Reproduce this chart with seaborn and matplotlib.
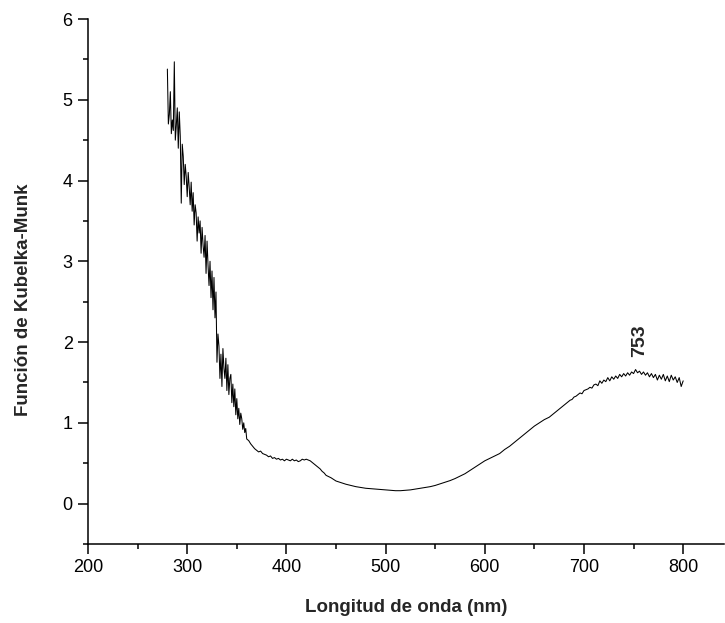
import numpy as np
import pandas as pd
import matplotlib
matplotlib.use("Agg")
import matplotlib.pyplot as plt
from matplotlib.ticker import MultipleLocator
import seaborn as sns

# --- Data ---
# UV region, 1 nm steps, 280-360 nm
wl_uv = np.arange(280, 361, 1)
km_uv = [5.38, 4.70, 4.82, 5.10, 4.58, 4.75, 4.62, 5.47, 4.50, 4.68,
         4.90, 4.40, 4.85, 4.55, 3.72, 4.45, 4.30, 3.95, 4.20, 4.05,
         3.80, 4.10, 3.92, 3.70, 3.98, 3.62, 3.85, 3.45, 3.70, 3.60,
         3.25, 3.55, 3.35, 3.50, 3.10, 3.42, 3.20, 3.05, 3.32, 2.85,
         3.25, 2.95, 2.70, 3.00, 2.55, 2.88, 2.40, 2.80, 2.30, 2.62,
         1.75, 2.10, 1.95, 1.55, 1.85, 1.45, 1.92, 1.68, 1.55, 1.80,
         1.40, 1.72, 1.35, 1.55, 1.60, 1.25, 1.48, 1.20, 1.42, 1.10,
         1.30, 1.05, 1.18, 0.98, 1.12, 1.05, 0.92, 1.00, 0.88, 0.93,
         0.80]
# shoulder region, 2 nm steps, 362-440 nm
wl_sh = np.arange(362, 441, 2)
km_sh = [0.78, 0.74, 0.71, 0.68, 0.66, 0.64, 0.65, 0.62, 0.61, 0.60,
         0.58, 0.59, 0.56, 0.57, 0.55, 0.56, 0.54, 0.55, 0.53, 0.55,
         0.54, 0.53, 0.55, 0.53, 0.54, 0.52, 0.53, 0.55, 0.54, 0.55,
         0.54, 0.53, 0.51, 0.49, 0.47, 0.45, 0.43, 0.40, 0.38, 0.35]
# visible region, 5 nm steps, 445-680 nm
wl_vis = np.arange(445, 681, 5)
km_vis = [0.32, 0.28, 0.26, 0.24, 0.225, 0.21, 0.20, 0.19, 0.185, 0.18,
          0.175, 0.17, 0.165, 0.16, 0.16, 0.165, 0.17, 0.18, 0.19, 0.20,
          0.21, 0.225, 0.245, 0.265, 0.285, 0.31, 0.34, 0.37, 0.41, 0.45,
          0.49, 0.53, 0.56, 0.59, 0.62, 0.67, 0.71, 0.76, 0.81, 0.86,
          0.91, 0.96, 1.00, 1.04, 1.07, 1.12, 1.17, 1.22]
# near-IR region, 2 nm steps, 682-800 nm
wl_nir = np.arange(682, 801, 2)
km_nir = [1.24, 1.26, 1.28, 1.29, 1.32, 1.33, 1.35, 1.37, 1.36, 1.40,
          1.41, 1.42, 1.44, 1.43, 1.47, 1.48, 1.46, 1.52, 1.49, 1.53,
          1.51, 1.56, 1.52, 1.57, 1.54, 1.58, 1.55, 1.60, 1.57, 1.61,
          1.58, 1.62, 1.59, 1.63, 1.61, 1.66, 1.62, 1.64, 1.60, 1.63,
          1.59, 1.62, 1.57, 1.61, 1.56, 1.60, 1.53, 1.59, 1.54, 1.60,
          1.52, 1.58, 1.51, 1.59, 1.53, 1.57, 1.50, 1.56, 1.45, 1.52]

peak_label = "753"
peak_x = 756
peak_y = 1.81

xlabel = "Longitud de onda (nm)"
ylabel = "Función de Kubelka-Munk"

df = pd.DataFrame({
    "wl": np.concatenate([wl_uv, wl_sh, wl_vis, wl_nir]),
    "km": np.concatenate([km_uv, km_sh, km_vis, km_nir]),
})

sns.set_style("ticks")
plt.rcParams["font.family"] = ["Liberation Sans", "DejaVu Sans"]

fig = plt.figure(figsize=(7.25, 6.23), dpi=100)
ax = fig.add_axes([0.1214, 0.1268, 0.877, 0.8427])

sns.lineplot(data=df, x="wl", y="km", ax=ax, color="black", linewidth=0.75,
             sort=False, estimator=None)

ax.set_xlim(200, 841)
ax.set_ylim(-0.5, 6)
ax.xaxis.set_major_locator(MultipleLocator(100))
ax.xaxis.set_minor_locator(MultipleLocator(50))
ax.yaxis.set_major_locator(MultipleLocator(1))
ax.yaxis.set_minor_locator(MultipleLocator(0.5))

for s in ["top", "right"]:
    ax.spines[s].set_visible(False)
for s in ["left", "bottom"]:
    ax.spines[s].set_linewidth(1.1)
    ax.spines[s].set_color("black")

ax.tick_params(which="major", direction="out", length=7, width=1.1,
               labelsize=13, colors="black", pad=4)
ax.tick_params(which="minor", direction="out", length=3.5, width=1.1,
               colors="black")

ax.set_xlabel(xlabel, fontsize=13.5, fontweight="bold", labelpad=16)
ax.set_ylabel(ylabel, fontsize=13.5, fontweight="bold", labelpad=22)
ax.yaxis.label.set_y(0.465)

ax.text(peak_x, peak_y, peak_label, rotation=90, ha="center", va="bottom",
        fontsize=14, fontweight="bold")

fig.savefig("out.png", dpi=100)
